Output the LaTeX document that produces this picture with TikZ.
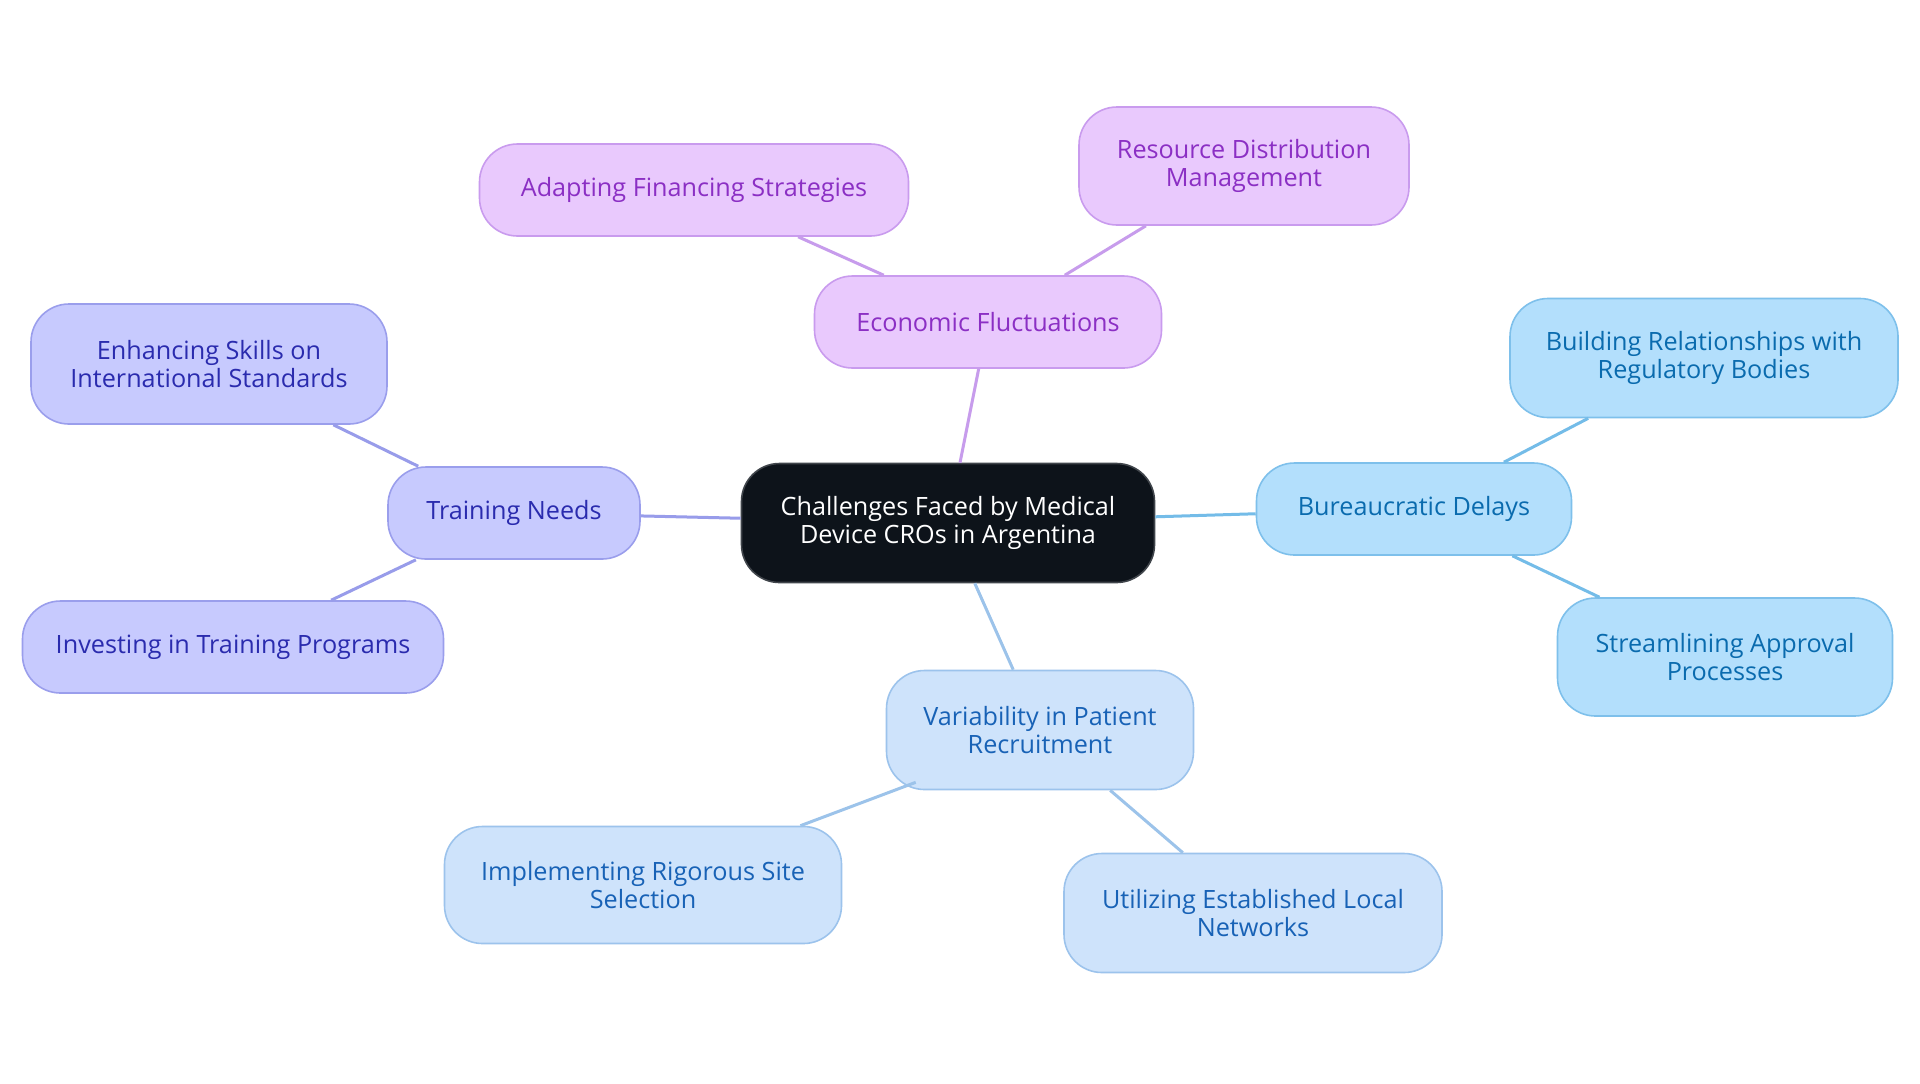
\documentclass[tikz,border=0pt]{standalone}
\usepackage{fontspec}
\setmainfont{Open Sans}
\definecolor{cfill}{HTML}{0D131A}
\definecolor{cdraw}{HTML}{40454B}
\definecolor{pfill}{HTML}{E9C9FD}
\definecolor{pdraw}{HTML}{C99BEE}
\definecolor{ptext}{HTML}{8B2FC4}
\definecolor{pedge}{HTML}{C79CEC}
\definecolor{bfill}{HTML}{B3DFFC}
\definecolor{bdraw}{HTML}{7EC0EB}
\definecolor{btext}{HTML}{0A6BAE}
\definecolor{bedge}{HTML}{74BCE8}
\definecolor{lfill}{HTML}{C7CAFE}
\definecolor{ldraw}{HTML}{9A9EEC}
\definecolor{ltext}{HTML}{2A2BAE}
\definecolor{ledge}{HTML}{989CEA}
\definecolor{vfill}{HTML}{CEE3FB}
\definecolor{vdraw}{HTML}{9CC3EC}
\definecolor{vtext}{HTML}{1862B6}
\definecolor{vedge}{HTML}{9CC3EA}
\tikzset{
  box/.style={rounded corners=19pt, line width=0.8pt, align=center, inner sep=0pt,
    font=\fontsize{12.6}{14}\selectfont},
  center/.style={box, fill=cfill, draw=cdraw, text=white},
  pbox/.style={box, fill=pfill, draw=pdraw, text=ptext},
  bbox/.style={box, fill=bfill, draw=bdraw, text=btext},
  lbox/.style={box, fill=lfill, draw=ldraw, text=ltext},
  vbox/.style={box, fill=vfill, draw=vdraw, text=vtext},
  edge/.style={line width=1.5pt},
}
\begin{document}
\begin{tikzpicture}[x=0.5pt,y=-0.5pt]
\useasboundingbox[fill=white] (0,0) rectangle (1920,1083);
% nodes
\node[center, minimum width=206.5pt, minimum height=59.5pt] (c) at (948,523) {Challenges Faced by Medical\\Device CROs in Argentina};
\node[pbox, minimum width=173.5pt, minimum height=46pt] (eco) at (988,322) {Economic Fluctuations};
\node[pbox, minimum width=214.5pt, minimum height=46pt] (adapt) at (694,190) {Adapting Financing Strategies};
\node[pbox, minimum width=165pt, minimum height=59pt] (res) at (1244,166) {Resource Distribution\\Management};
\node[bbox, minimum width=157.5pt, minimum height=46pt] (bur) at (1414,509) {Bureaucratic Delays};
\node[bbox, minimum width=194pt, minimum height=59.5pt] (build) at (1704,358) {Building Relationships with\\Regulatory Bodies};
\node[bbox, minimum width=167.5pt, minimum height=59pt] (stream) at (1725,657) {Streamlining Approval\\Processes};
\node[lbox, minimum width=126pt, minimum height=46pt] (train) at (514,513) {Training Needs};
\node[lbox, minimum width=178pt, minimum height=60pt] (enh) at (209,364) {Enhancing Skills on\\International Standards};
\node[lbox, minimum width=210.5pt, minimum height=46pt] (inv) at (233,647) {Investing in Training Programs};
\node[vbox, minimum width=153.5pt, minimum height=59.5pt] (var) at (1040,730) {Variability in Patient\\Recruitment};
\node[vbox, minimum width=198.5pt, minimum height=58.5pt] (impl) at (643,885) {Implementing Rigorous Site\\Selection};
\node[vbox, minimum width=189pt, minimum height=59.5pt] (util) at (1253,913) {Utilizing Established Local\\Networks};
% edges
\draw[edge, pedge] (c) -- (eco);
\draw[edge, pedge] (eco) -- (adapt);
\draw[edge, pedge] (eco) -- (res);
\draw[edge, bedge] (c) -- (bur);
\draw[edge, bedge] (bur) -- (build);
\draw[edge, bedge] (bur) -- (stream);
\draw[edge, ledge] (c) -- (train);
\draw[edge, ledge] (train) -- (enh);
\draw[edge, ledge] (train) -- (inv);
\draw[edge, vedge] (c) -- (var);
\draw[edge, vedge] (var.south west) ++(30,-8) coordinate (vsw) (vsw) -- (impl);
\draw[edge, vedge] (var) -- (util);
\end{tikzpicture}
\end{document}
